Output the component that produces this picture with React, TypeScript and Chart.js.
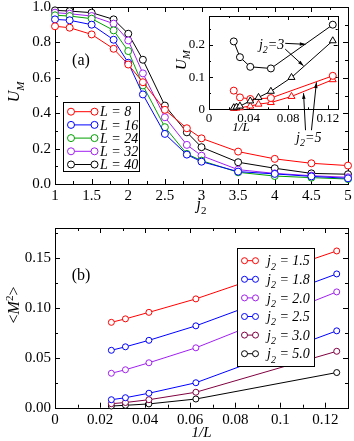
import React, { useEffect, useRef } from "react";
import { Chart, registerables } from "chart.js";
Chart.register(...registerables);

const FONT = '"Liberation Serif", "Times New Roman", serif';

// ---- Panel (a): U_M vs j2 ----
const J2 = [1, 1.2, 1.5, 1.8, 2, 2.2, 2.5, 2.8, 3, 3.5, 4, 4.5, 5];
const L_LABELS = ["8", "16", "24", "32", "40"];
const U_L8 = [0.891, 0.883, 0.845, 0.764, 0.675, 0.575, 0.419, 0.315, 0.258, 0.183, 0.142, 0.117, 0.104];
const U_L16 = [0.930, 0.925, 0.900, 0.815, 0.685, 0.506, 0.283, 0.166, 0.126, 0.070, 0.057, 0.043, 0.032];
const U_L24 = [0.953, 0.949, 0.934, 0.868, 0.751, 0.557, 0.321, 0.170, 0.132, 0.066, 0.045, 0.036, 0.028];
const U_L32 = [0.968, 0.962, 0.949, 0.906, 0.811, 0.625, 0.377, 0.221, 0.160, 0.081, 0.060, 0.047, 0.038];
const U_L40 = [0.981, 0.977, 0.968, 0.930, 0.849, 0.702, 0.443, 0.292, 0.208, 0.123, 0.089, 0.060, 0.055];
const U_SERIES = [U_L8, U_L16, U_L24, U_L32, U_L40];
const TOP_COLORS = ["#ff0000", "#0000ff", "#00a000", "#a020f0", "#000000"];

// ---- Panel (b): <M^2> vs 1/L ----
const INV_L = [1 / 40, 1 / 32, 1 / 24, 1 / 16, 1 / 8];
const J2_LABELS = ["1.5", "1.8", "2.0", "2.5", "3.0", "5.0"];
const M2_15 = [0.0855, 0.0890, 0.0955, 0.1090, 0.1570];
const M2_18 = [0.0575, 0.0610, 0.0675, 0.0820, 0.1340];
const M2_20 = [0.0345, 0.0380, 0.0450, 0.0600, 0.1160];
const M2_25 = [0.0080, 0.0100, 0.0145, 0.0250, 0.0770];
const M2_30 = [0.0040, 0.0052, 0.0080, 0.0155, 0.0565];
const M2_50 = [0.0017, 0.0024, 0.0038, 0.0087, 0.0352];
const M2_SERIES = [M2_15, M2_18, M2_20, M2_25, M2_30, M2_50];
const BOT_COLORS = ["#ff0000", "#0000ff", "#a020f0", "#0000ff", "#800040", "#000000"];

// ---- Inset: U_M vs 1/L ----
const INSET_X_CIRC = [1 / 40, 1 / 32, 1 / 24, 1 / 16, 1 / 8];
const INSET_X_TRI = [1 / 40, 1 / 36, 1 / 32, 1 / 24, 1 / 20, 1 / 16, 1 / 12, 1 / 8];
const UM3_CIRC = [0.211, 0.162, 0.132, 0.127, 0.263];
const UM3_TRI = [0.005, 0.007, 0.010, 0.026, 0.037, 0.056, 0.099, 0.213];
const UM5_CIRC = [0.058, 0.037, 0.032, 0.035, 0.104];
const UM5_TRI = [0.003, 0.004, 0.005, 0.010, 0.016, 0.021, 0.040, 0.092];

type Part = { t: string; it?: boolean; sub?: boolean; sup?: boolean };

function fontFor(p: Part, size: number) {
  const s = p.sub || p.sup ? Math.round(size * 0.7) : size;
  return `${p.it ? "italic " : ""}${s}px ${FONT}`;
}
function richWidth(ctx: CanvasRenderingContext2D, parts: Part[], size: number) {
  let w = 0;
  for (const p of parts) {
    ctx.font = fontFor(p, size);
    w += ctx.measureText(p.t).width;
  }
  return w;
}
function drawRich(ctx: CanvasRenderingContext2D, parts: Part[], x: number, y: number, size: number, align = "left") {
  ctx.save();
  ctx.fillStyle = "#000";
  ctx.textBaseline = "alphabetic";
  ctx.textAlign = "left";
  let cx = align === "center" ? x - richWidth(ctx, parts, size) / 2 : x;
  for (const p of parts) {
    ctx.font = fontFor(p, size);
    const dy = p.sub ? size * 0.3 : p.sup ? -size * 0.42 : 0;
    ctx.fillText(p.t, cx, y + dy);
    cx += ctx.measureText(p.t).width;
  }
  ctx.restore();
}
function drawRotated(ctx: CanvasRenderingContext2D, parts: Part[], cx: number, cy: number, size: number) {
  ctx.save();
  ctx.translate(cx, cy);
  ctx.rotate(-Math.PI / 2);
  drawRich(ctx, parts, 0, size * 0.33, size, "center");
  ctx.restore();
}
function arrow(ctx: CanvasRenderingContext2D, x0: number, y0: number, x1: number, y1: number, head = 6) {
  ctx.save();
  ctx.strokeStyle = "#000";
  ctx.fillStyle = "#000";
  ctx.lineWidth = 1;
  ctx.beginPath();
  ctx.moveTo(x0, y0);
  ctx.lineTo(x1, y1);
  ctx.stroke();
  const ang = Math.atan2(y1 - y0, x1 - x0);
  ctx.beginPath();
  ctx.moveTo(x1, y1);
  ctx.lineTo(x1 - head * Math.cos(ang - 0.3), y1 - head * Math.sin(ang - 0.3));
  ctx.lineTo(x1 - head * Math.cos(ang + 0.3), y1 - head * Math.sin(ang + 0.3));
  ctx.closePath();
  ctx.fill();
  ctx.restore();
}

function framePlugin(xMajor: number, xMinor: number, yMajor: number, yMinor: number, major: number, minor: number, whiteFill: boolean) {
  return {
    id: "frameTicks",
    beforeDatasetsDraw(chart: any) {
      const { ctx, chartArea: a, scales } = chart;
      const xs = scales.x, ys = scales.y;
      ctx.save();
      if (whiteFill) {
        ctx.fillStyle = "#fff";
        ctx.fillRect(a.left, a.top, a.right - a.left, a.bottom - a.top);
      }
      ctx.strokeStyle = "#000";
      ctx.lineWidth = 1;
      ctx.beginPath();
      const nx = Math.floor((xs.max - xs.min) / xMinor + 1e-6);
      for (let i = 0; i <= nx; i++) {
        const v = xs.min + i * xMinor;
        const isMaj = Math.abs(v / xMajor - Math.round(v / xMajor)) < 1e-6;
        const len = isMaj ? major : minor;
        const px = Math.round(xs.getPixelForValue(v)) + 0.5;
        ctx.moveTo(px, a.bottom);
        ctx.lineTo(px, a.bottom - len);
        ctx.moveTo(px, a.top);
        ctx.lineTo(px, a.top + len);
      }
      const ny = Math.floor((ys.max - ys.min) / yMinor + 1e-6);
      for (let i = 0; i <= ny; i++) {
        const v = ys.min + i * yMinor;
        const isMaj = Math.abs(v / yMajor - Math.round(v / yMajor)) < 1e-6;
        const len = isMaj ? major : minor;
        const py = Math.round(ys.getPixelForValue(v)) + 0.5;
        ctx.moveTo(a.left, py);
        ctx.lineTo(a.left + len, py);
        ctx.moveTo(a.right, py);
        ctx.lineTo(a.right - len, py);
      }
      ctx.stroke();
      ctx.strokeRect(Math.round(a.left) + 0.5, Math.round(a.top) + 0.5, Math.round(a.right - a.left), Math.round(a.bottom - a.top));
      ctx.restore();
    },
  };
}

function axis(min: number, max: number, step: number, size: number, pad: number, fmt: (v: number) => string, fit: (s: any) => void) {
  return {
    type: "linear",
    min,
    max,
    grid: { display: false, drawTicks: false },
    border: { display: false },
    ticks: {
      stepSize: step,
      includeBounds: false,
      autoSkip: false,
      maxRotation: 0,
      padding: pad,
      color: "#000",
      font: { family: FONT, size },
      callback: (v: any) => fmt(Number(v)),
    },
    afterFit: fit,
  };
}

function drawLegend(ctx: CanvasRenderingContext2D, chart: any, box: { x: number; y: number; w: number; h: number }, row0: number, step: number, c0: number, c1: number, tx: number, size: number, r: number, labels: Part[][]) {
  ctx.save();
  ctx.fillStyle = "#fff";
  ctx.fillRect(box.x, box.y, box.w, box.h);
  ctx.strokeStyle = "#000";
  ctx.lineWidth = 1;
  ctx.strokeRect(Math.round(box.x) + 0.5, Math.round(box.y) + 0.5, Math.round(box.w), Math.round(box.h));
  chart.data.datasets.forEach((ds: any, i: number) => {
    const y = box.y + row0 + i * step;
    ctx.strokeStyle = ds.borderColor;
    ctx.beginPath();
    ctx.moveTo(box.x + c0, y);
    ctx.lineTo(box.x + c1, y);
    ctx.stroke();
    for (const cx of [box.x + c0, box.x + c1]) {
      ctx.beginPath();
      ctx.arc(cx, y, r, 0, Math.PI * 2);
      ctx.fillStyle = "#fff";
      ctx.fill();
      ctx.stroke();
    }
    drawRich(ctx, labels[i], box.x + tx, y + size * 0.33, size);
  });
  ctx.restore();
}

function lineDs(label: string, xs: number[], ys: number[], color: string, r: number, style = "circle") {
  return {
    label,
    data: xs.map((x, k) => ({ x, y: ys[k] })),
    borderColor: color,
    backgroundColor: color,
    pointBackgroundColor: "#fff",
    pointBorderColor: color,
    pointRadius: r,
    pointStyle: style,
    pointBorderWidth: 1,
    borderWidth: 1,
    tension: 0,
    clip: false,
  };
}

function topConfig(): any {
  const labels: Part[][] = L_LABELS.map((l) => [{ t: "L = " + l, it: true }]);
  return {
    type: "line",
    data: { datasets: U_SERIES.map((s, i) => lineDs("L = " + L_LABELS[i], J2, s, TOP_COLORS[i], 3.5)) },
    options: {
      responsive: false,
      animation: false,
      events: [],
      layout: { padding: { top: 7, right: 6, left: 0, bottom: 0 } },
      plugins: { legend: { display: false }, tooltip: { enabled: false } },
      scales: {
        x: axis(1, 5, 0.5, 15, 3, (v) => String(+v.toFixed(2)), (s: any) => { s.height = 36; s.paddingLeft = 0; s.paddingRight = 0; }),
        y: axis(0, 1, 0.2, 15, 4, (v) => v.toFixed(1), (s: any) => { s.width = 55; s.paddingTop = 0; s.paddingBottom = 0; }),
      },
    },
    plugins: [
      framePlugin(0.5, 0.25, 0.2, 0.1, 5, 3, false),
      {
        id: "topDeco",
        afterDraw(chart: any) {
          const { ctx, chartArea: a } = chart;
          drawLegend(ctx, chart, { x: a.left + 8, y: a.top + 95, w: 76, h: 69 }, 9.7, 13.2, 8, 31.5, 37, 14, 3.5, labels);
          drawRich(ctx, [{ t: "(a)" }], a.left + 26, a.top + 58, 16, "center");
          drawRich(ctx, [{ t: "j", it: true }, { t: "2", sub: true }], (a.left + a.right) / 2, a.bottom + 25, 16, "center");
          drawRotated(ctx, [{ t: "U", it: true }, { t: "M", it: true, sub: true }], 14, 92, 16);
        },
      },
    ],
  };
}

function bottomConfig(): any {
  const labels: Part[][] = J2_LABELS.map((l) => [{ t: "j", it: true }, { t: "2", it: true, sub: true }, { t: " = " + l, it: true }]);
  return {
    type: "line",
    data: { datasets: M2_SERIES.map((s, i) => lineDs("j2 = " + J2_LABELS[i], INV_L, s, BOT_COLORS[i], 3)) },
    options: {
      responsive: false,
      animation: false,
      events: [],
      layout: { padding: { top: 8, right: 6, left: 0, bottom: 0 } },
      plugins: { legend: { display: false }, tooltip: { enabled: false } },
      scales: {
        x: axis(0, 0.13, 0.02, 15, 3, (v) => String(+v.toFixed(3)), (s: any) => { s.height = 33.3; s.paddingLeft = 0; s.paddingRight = 0; }),
        y: axis(0, 0.18, 0.05, 15, 4, (v) => v.toFixed(2), (s: any) => { s.width = 55; s.paddingTop = 0; s.paddingBottom = 0; }),
      },
    },
    plugins: [
      framePlugin(0.02, 0.01, 0.05, 0.025, 5, 3, false),
      {
        id: "botDeco",
        afterDraw(chart: any) {
          const { ctx, chartArea: a } = chart;
          drawLegend(ctx, chart, { x: a.left + 182, y: a.top + 20, w: 77, h: 118 }, 12.7, 18.6, 7.5, 18.5, 30, 14, 3, labels);
          drawRich(ctx, [{ t: "(b)" }], a.left + 26, a.top + 52, 16, "center");
          drawRich(ctx, [{ t: "1/L", it: true }], (a.left + a.right) / 2, a.bottom + 29, 15, "center");
          drawRotated(ctx, [{ t: "<" }, { t: "M", it: true }, { t: "2", sup: true }, { t: ">" }], 14, 85, 16);
        },
      },
    ],
  };
}

function insetConfig(): any {
  return {
    type: "line",
    data: {
      datasets: [
        lineDs("j2=3 circ", INSET_X_CIRC, UM3_CIRC, "#000000", 3.5),
        lineDs("j2=3 tri", INSET_X_TRI, UM3_TRI, "#000000", 4, "triangle"),
        lineDs("j2=5 circ", INSET_X_CIRC, UM5_CIRC, "#ff0000", 3.5),
        lineDs("j2=5 tri", INSET_X_TRI, UM5_TRI, "#ff0000", 4, "triangle"),
      ],
    },
    options: {
      responsive: false,
      animation: false,
      events: [],
      layout: { padding: { top: 16, right: 12.3, left: 0, bottom: 0 } },
      plugins: { legend: { display: false }, tooltip: { enabled: false } },
      scales: {
        x: axis(0, 0.13, 0.04, 13, 1, (v) => String(+v.toFixed(3)), (s: any) => { s.height = 40.7; s.paddingLeft = 0; s.paddingRight = 0; }),
        y: axis(0, 0.29, 0.1, 13, 4, (v) => String(+v.toFixed(2)), (s: any) => { s.width = 44; s.paddingTop = 0; s.paddingBottom = 0; }),
      },
    },
    plugins: [
      framePlugin(0.04, 0.02, 0.1, 0.05, 4, 2, true),
      {
        id: "insetDeco",
        afterDraw(chart: any) {
          const { ctx, chartArea: a, scales } = chart;
          const X = (v: number) => scales.x.getPixelForValue(v);
          const Y = (v: number) => scales.y.getPixelForValue(v);
          drawRich(ctx, [{ t: "1/L", it: true }], a.left + 32, a.bottom + 22, 13, "center");
          drawRotated(ctx, [{ t: "U", it: true }, { t: "M", it: true, sub: true }], 16, 60, 15);
          const j3: Part[] = [{ t: "j", it: true }, { t: "2", it: true, sub: true }, { t: "=3", it: true }];
          const j5: Part[] = [{ t: "j", it: true }, { t: "2", it: true, sub: true }, { t: "=5", it: true }];
          drawRich(ctx, j3, X(0.0632), Y(0.201) + 4, 14, "center");
          arrow(ctx, X(0.077), Y(0.205), X(0.0975), Y(0.202));
          arrow(ctx, X(0.077), Y(0.187), X(0.0955), Y(0.135));
          drawRich(ctx, j5, X(0.1008), Y(-0.0897) + 4, 14, "center");
          arrow(ctx, X(0.0975), Y(-0.065), X(0.0955), Y(0.05));
          arrow(ctx, X(0.1035), Y(-0.065), X(0.1085), Y(0.084));
        },
      },
    ],
  };
}

export default function App() {
  const topRef = useRef<HTMLCanvasElement>(null);
  const botRef = useRef<HTMLCanvasElement>(null);
  const insetRef = useRef<HTMLCanvasElement>(null);
  useEffect(() => {
    const charts = [
      new Chart(topRef.current as HTMLCanvasElement, topConfig()),
      new Chart(botRef.current as HTMLCanvasElement, bottomConfig()),
      new Chart(insetRef.current as HTMLCanvasElement, insetConfig()),
    ];
    return () => charts.forEach((c) => c.destroy());
  }, []);
  return (
    <div style={{ position: "absolute", left: 0, top: 0, width: 354, height: 441, background: "#fff" }}>
      <canvas ref={topRef} width={354} height={220} style={{ position: "absolute", left: 0, top: 0 }} />
      <canvas ref={botRef} width={354} height={221} style={{ position: "absolute", left: 0, top: 220 }} />
      <canvas ref={insetRef} width={185} height={150} style={{ position: "absolute", left: 165, top: 0 }} />
    </div>
  );
}
